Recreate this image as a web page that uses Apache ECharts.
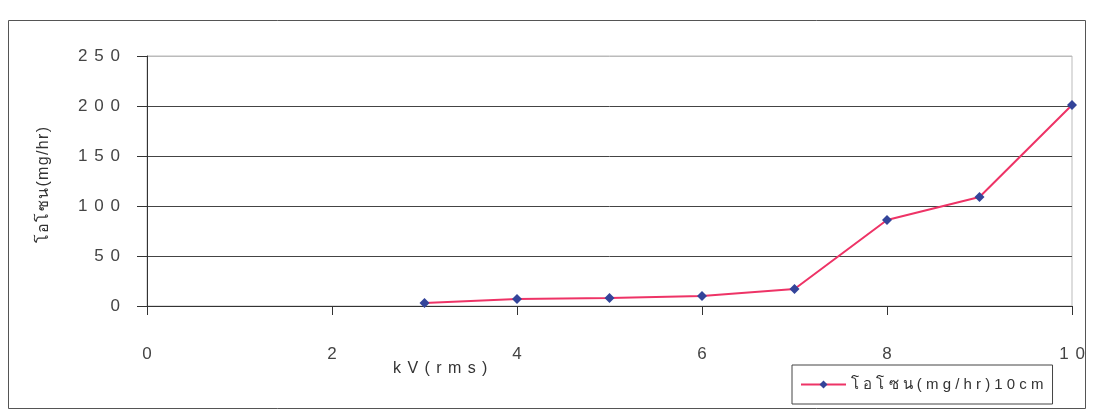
<!DOCTYPE html>
<html><head><meta charset="utf-8">
<script src="https://cdn.jsdelivr.net/npm/echarts@6/dist/echarts.min.js"></script>
<style>html,body{margin:0;padding:0;background:#fff}#c{width:1093px;height:411px}</style>
</head><body><div id="c"></div>
<script>
const kv = [3, 4, 5, 6, 7, 8, 9, 10];
const ozone = [3, 7, 8, 10, 17, 86, 109, 201];
const seriesName = 'โอโซน(mg/hr)10cm';
const yTitle = 'โอโซน(mg/hr)';
const xTitle = 'kV(rms)';
const sp = (s, g) => String(s).split('').join(g || '\u2009\u2009');
const font = '"Liberation Sans", Arial, "Noto Sans", sans-serif';
const chart = echarts.init(document.getElementById('c'));
chart.setOption({
  animation: false,
  backgroundColor: '#fff',
  grid: {left: 147, top: 56, right: 21, bottom: 105, show: true, borderColor: '#bbb', borderWidth: 1},
  xAxis: {
    type: 'value', min: 0, max: 10, interval: 2,
    axisLine: {lineStyle: {color: '#333', width: 1}},
    axisTick: {show: true, length: 9, lineStyle: {color: '#333'}},
    splitLine: {show: false},
    axisLabel: {color: '#444', fontSize: 17, fontFamily: font, margin: 40, formatter: v => sp(v)}
  },
  yAxis: {
    type: 'value', min: 0, max: 250, interval: 50,
    axisLine: {show: true, lineStyle: {color: '#333', width: 1}},
    axisTick: {show: true, length: 10, lineStyle: {color: '#333'}},
    splitLine: {show: true, lineStyle: {color: ['#444','#444','#444','#444','#444','#bbb'], width: 1}},
    axisLabel: {color: '#444', fontSize: 17, fontFamily: font, margin: 27, formatter: v => sp(v)}
  },
  legend: {
    left: 792, top: 365, data: [seriesName],
    borderColor: '#444', borderWidth: 1, backgroundColor: '#fff',
    padding: [12, 9, 12, 8], itemWidth: 45, itemHeight: 10, itemGap: 5,
    textStyle: {color: '#333', fontSize: 15, fontFamily: font},
    formatter: n => sp(n, ' ')
  },
  graphic: [
    {type: 'rect', shape: {x: 8.5, y: 20.5, width: 1077, height: 388}, style: {fill: 'none', stroke: '#555', lineWidth: 1}, z: -1},
    {type: 'text', left: 393, top: 361, style: {text: sp(xTitle), fill: '#333', font: '16px ' + font}},
    {type: 'text', left: 36, top: 127, rotation: Math.PI / 2, style: {text: sp(yTitle, '\u200A'), fill: '#333', font: '16px ' + font}}
  ],
  series: [{
    name: seriesName, type: 'line',
    data: kv.map((x, i) => [x, ozone[i]]),
    lineStyle: {color: '#ee3366', width: 2},
    itemStyle: {color: '#33449a'},
    symbol: 'diamond', symbolSize: 10, showSymbol: true
  }]
});
</script></body></html>
